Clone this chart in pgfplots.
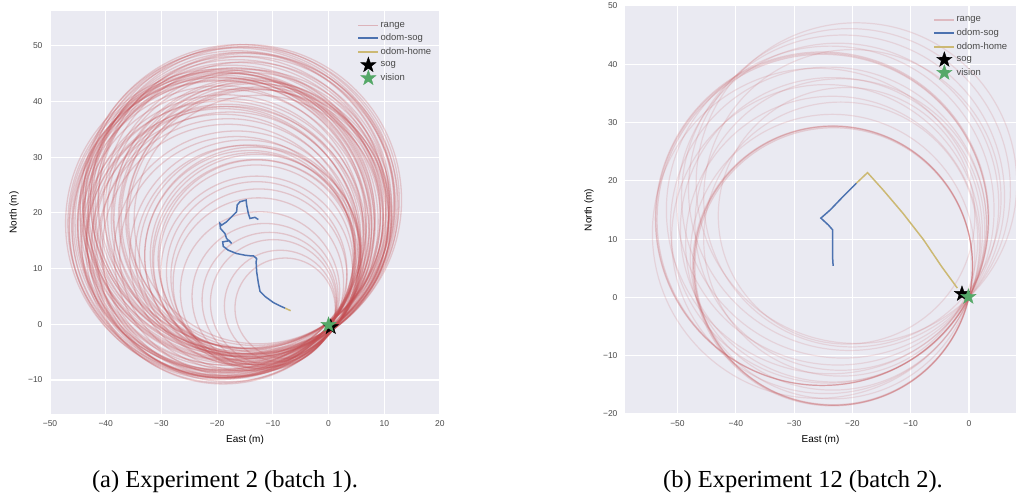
\documentclass[border=0pt]{standalone}
\usepackage{pgfplots}
\pgfplotsset{compat=1.18}
\usepackage{pgfplotstable}
\usepackage{fontspec}
\setmainfont{Liberation Sans}
\newfontfamily\capfont{Liberation Serif}
\definecolor{sbbg}{HTML}{EAEAF2}
\definecolor{sbblue}{HTML}{4C72B0}
\definecolor{sbgreen}{HTML}{55A868}
\definecolor{sbred}{HTML}{C44E52}
\definecolor{sbyellow}{HTML}{CCB974}
\definecolor{ticktext}{HTML}{4A4A4A}

\pgfdeclareplotmark{fstar}{%
  \pgfpathmoveto{\pgfpointpolar{90}{\pgfplotmarksize}}%
  \pgfpathlineto{\pgfpointpolar{126}{0.4\pgfplotmarksize}}%
  \pgfpathlineto{\pgfpointpolar{162}{\pgfplotmarksize}}%
  \pgfpathlineto{\pgfpointpolar{198}{0.4\pgfplotmarksize}}%
  \pgfpathlineto{\pgfpointpolar{234}{\pgfplotmarksize}}%
  \pgfpathlineto{\pgfpointpolar{270}{0.4\pgfplotmarksize}}%
  \pgfpathlineto{\pgfpointpolar{306}{\pgfplotmarksize}}%
  \pgfpathlineto{\pgfpointpolar{342}{0.4\pgfplotmarksize}}%
  \pgfpathlineto{\pgfpointpolar{18}{\pgfplotmarksize}}%
  \pgfpathlineto{\pgfpointpolar{54}{0.4\pgfplotmarksize}}%
  \pgfpathclose
  \pgfusepathqfillstroke
}

% range circles, experiment 2: centre (cx,cy) and range r, in metres
\pgfplotstableread{
cx cy r
-12.6 18.8 22.3
-12.6 18.8 23.3
-12.6 18.8 23.8
-13.2 19.2 23.0
-13.2 19.2 24.0
-13.2 19.2 24.5
-14.1 19.0 23.4
-14.1 19.0 24.4
-14.1 19.0 24.9
-14.4 19.9 24.3
-14.4 19.9 25.3
-14.4 19.9 25.8
-14.7 21.4 25.7
-14.7 21.4 26.7
-14.7 21.4 27.2
-14.8 22.3 26.5
-14.8 22.3 27.5
-14.8 22.3 27.9
-15.9 22.0 26.8
-15.9 22.0 27.8
-15.9 22.0 28.2
-16.4 21.4 26.7
-16.4 21.4 27.7
-16.4 21.4 28.2
-16.5 20.2 25.8
-16.5 20.2 26.8
-16.5 20.2 27.3
-17.4 19.3 25.7
-17.4 19.3 26.7
-17.4 19.3 27.2
-18.3 18.4 25.7
-18.3 18.4 26.7
-18.3 18.4 27.2
-19.2 17.8 25.9
-19.2 17.8 26.9
-19.2 17.8 27.4
-19.5 18.1 26.3
-19.5 18.1 27.3
-19.5 18.1 27.7
-19.4 17.2 25.6
-19.4 17.2 26.6
-19.4 17.2 27.1
-18.6 16.3 24.9
-18.6 16.3 25.9
-18.3 15.4 24.1
-18.3 15.4 25.1
-17.7 14.8 23.3
-17.7 14.8 24.3
-19.0 14.8 24.3
-19.0 14.8 25.3
-18.9 14.0 23.7
-18.9 14.0 24.7
-18.0 13.3 22.6
-18.0 13.3 23.6
-16.5 12.7 21.0
-16.5 12.7 22.0
-15.0 12.4 19.7
-15.0 12.4 20.7
-14.1 12.3 18.9
-14.1 12.3 19.9
-13.5 12.3 18.5
-13.5 12.3 19.5
-12.9 11.8 17.7
-12.9 11.8 18.7
-13.0 11.2 17.4
-13.0 11.2 18.4
-12.9  9.4 16.2
-12.9  9.4 17.2
-12.5  8.5 15.8
-12.6  7.4 15.3
-12.3  5.9 14.3
-11.4  5.0 13.1
-10.6  4.4 12.1
 -9.9  3.9 11.3
 -8.7  3.3 10.0
 -7.8  2.9  9.0
}\circlesA

% range circles, experiment 12
\pgfplotstableread{
cx cy r
-23.3  5.4 23.9
-23.2  5.3 23.8
-23.3  5.5 23.9
-23.4  5.4 24.0
-25.2 13.4 28.5
-25.1 13.3 28.4
-25.2 13.5 28.6
}\circlesBdark
\pgfplotstableread{
cx cy r
-23.4  7.0 24.4
-23.4  9.3 25.2
-23.4 11.6 26.1
-24.1 12.4 27.1
-23.8 15.0 28.1
-21.6 17.3 27.7
-19.3 19.6 27.5
-20.5 18.5 27.6
-22.5 16.0 27.6
-21.0 14.0 22.0
-22.0 10.0 23.5
-24.5 10.0 26.5
-26.0 11.0 28.3
-20.0 17.0 25.5
-22.0 12.5 25.0
}\circlesBfaint

\pgfplotsset{
  sbaxis/.style={
    axis background/.style={fill=sbbg},
    axis line style={draw=none},
    tick style={draw=none},
    grid=major,
    major grid style={white, line width=1.1pt},
    clip marker paths=true,
    ticklabel style={font=\fontsize{8.5}{10}\selectfont, text=ticktext},
    xticklabel style={yshift=-3pt},
    yticklabel style={xshift=-4pt},
    label style={font=\fontsize{10}{12}\selectfont, text=ticktext},
    every axis x label/.style={at={(axis description cs:0.5,0)}, yshift=-26pt, anchor=center},
    every axis y label/.style={at={(axis description cs:0,0.5)}, xshift=-36pt, rotate=90, anchor=center},
    legend style={draw=none, fill=none, at={(axis description cs:1,1)}, anchor=north east,
      font=\fontsize{9.5}{11}\selectfont, text=ticktext, row sep=2.5pt, xshift=-4pt, yshift=-7pt,
      nodes={inner sep=1.5pt}},
    legend cell align=left,
    legend image code/.code={\draw[mark repeat=2,mark phase=2,#1] plot coordinates {(0cm,0cm) (0.35cm,0cm) (0.7cm,0cm)};},
  },
  starlegend/.style={legend image code/.code={\path[draw=none,fill=none] (0cm,0cm) -- (0.7cm,0cm);
      \draw[overlay,##1] plot coordinates {(0.35cm,0cm)};}},
  rangecirc/.style n args={3}{scatter, only marks, mark=o, forget plot,
    visualization depends on={#1*\thisrow{r} \as \rad},
    scatter/use mapped color={draw=sbred, draw opacity=#2, line width=#3},
    scatter/@pre marker code/.append style={/tikz/mark size=\rad}},
}

\begin{document}
\begin{tikzpicture}
\useasboundingbox (0,0) rectangle (1016pt,498pt);

\begin{axis}[sbaxis, at={(50pt,84pt)}, anchor=south west,
  x=5.571pt, y=5.571pt,
  xmin=-50, xmax=20, ymin=-16.1, ymax=56.2,
  xtick={-50,-40,...,20}, ytick={-10,0,...,50},
  xticklabels={−50,−40,−30,−20,−10,0,10,20},
  yticklabels={−10,0,10,20,30,40,50},
  xlabel={East (m)}, ylabel={North (m)}]
\addlegendimage{sbred, draw opacity=0.35, line width=1.2pt}
\addlegendentry{range}
\addplot[rangecirc={5.571}{0.24}{1.3pt}] table[x=cx, y=cy] {\circlesA};
\addplot[sbblue, line width=1.5pt, no marks] coordinates {
(-12.6,18.8) (-13.2,19.2) (-14.1,19.0) (-14.4,19.9) (-14.7,21.4) (-14.8,22.3)
(-15.9,22.0) (-16.4,21.4) (-16.5,20.2) (-17.4,19.3) (-18.3,18.4) (-19.2,17.8)
(-19.5,18.1) (-19.4,17.2) (-18.6,16.3) (-18.3,15.4) (-17.7,14.8) (-17.4,14.5)
(-17.8,15.0) (-19.0,14.8) (-18.9,14.0) (-18.0,13.3) (-16.5,12.7) (-15.0,12.4)
(-14.1,12.3) (-13.5,12.3) (-12.9,11.8) (-13.0,11.2) (-12.9,9.4) (-12.6,7.4)
(-12.3,5.9) (-11.4,5.0) (-9.9,3.9) (-8.7,3.3) (-7.8,2.9)};
\addlegendentry{odom-sog}
\addplot[sbyellow, line width=1.5pt, no marks] coordinates {(-7.8,2.9) (-6.8,2.44)};
\addlegendentry{odom-home}
\addplot[only marks, mark=fstar, mark size=8pt, black, starlegend] coordinates {(0.4,-0.5)};
\addlegendentry{sog}
\addplot[only marks, mark=fstar, mark size=8pt, sbgreen, starlegend] coordinates {(0,-0.1)};
\addlegendentry{vision}
\end{axis}

\begin{axis}[sbaxis, at={(625pt,84pt)}, anchor=south west,
  x=5.83pt, y=5.83pt,
  xmin=-59, xmax=8.06, ymin=-20, ymax=50,
  xtick={-50,-40,...,0}, ytick={-20,-10,...,50},
  xticklabels={−50,−40,−30,−20,−10,0},
  yticklabels={−20,−10,0,10,20,30,40,50},
  xlabel={East (m)}, ylabel={North (m)}]
\addlegendimage{sbred, draw opacity=0.3, line width=1.2pt}
\addlegendentry{range}
\addplot[rangecirc={5.83}{0.15}{1.2pt}] table[x=cx, y=cy] {\circlesBfaint};
\addplot[rangecirc={5.83}{0.2}{1.2pt}] table[x=cx, y=cy] {\circlesBdark};
\addplot[sbblue, line width=1.5pt, no marks] coordinates {
(-23.3,5.4) (-23.4,7.0) (-23.4,11.6) (-24.1,12.4) (-25.4,13.6) (-23.8,15.0)
(-21.6,17.3) (-19.3,19.6)};
\addlegendentry{odom-sog}
\addplot[sbyellow, line width=1.5pt, no marks] coordinates {
(-19.3,19.6) (-17.4,21.4) (-14.7,18.4) (-11.3,14.4) (-7.8,9.9) (-4.7,5.3) (-2.0,1.6)};
\addlegendentry{odom-home}
\addplot[only marks, mark=fstar, mark size=8pt, black, starlegend] coordinates {(-1.2,0.6)};
\addlegendentry{sog}
\addplot[only marks, mark=fstar, mark size=8pt, sbgreen, starlegend] coordinates {(-0.1,0.1)};
\addlegendentry{vision}
\end{axis}

\node[font=\capfont\fontsize{24.5}{28}\selectfont, anchor=base] at (225pt,11pt) {(a) Experiment 2 (batch 1).};
\node[font=\capfont\fontsize{24.5}{28}\selectfont, anchor=base] at (803pt,11pt) {(b) Experiment 12 (batch 2).};
\end{tikzpicture}
\end{document}
